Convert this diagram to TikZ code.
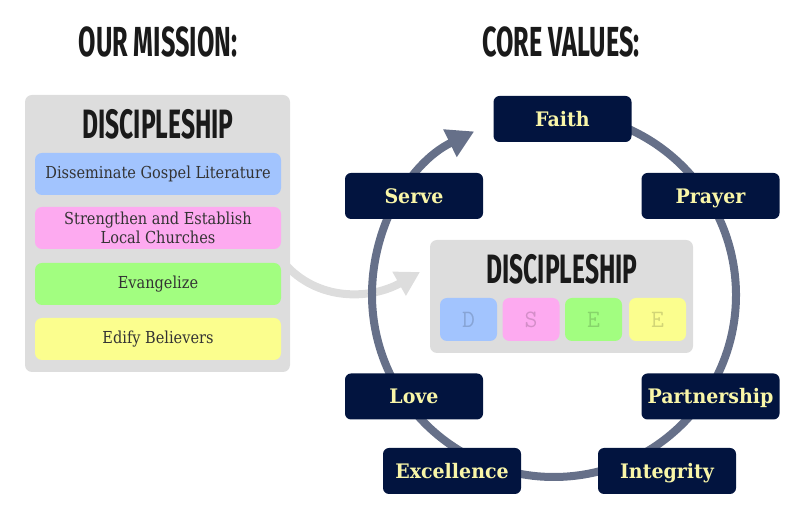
\documentclass[tikz,border=0pt]{standalone}
\usepackage{fontspec}
\usetikzlibrary{arrows.meta}
\newfontfamily\titlefont{Fira Sans}[FakeStretch=0.6]
\newfontfamily\slab{DejaVu Serif}[FakeStretch=0.88]
\newfontfamily\slabb{DejaVu Serif}[FakeStretch=0.95]
\definecolor{navy}{HTML}{02143F}
\definecolor{ringcol}{HTML}{667089}
\definecolor{boxgray}{HTML}{DDDDDD}
\definecolor{cblue}{HTML}{A2C4FE}
\definecolor{cpink}{HTML}{FDAAF0}
\definecolor{cgreen}{HTML}{A2FE80}
\definecolor{cyellow}{HTML}{FBFE8E}
\definecolor{valtext}{HTML}{F9F6A8}
\definecolor{bodytext}{HTML}{333333}
\definecolor{titletext}{HTML}{1A1A1A}
\tikzset{
  heading/.style={font=\titlefont\bfseries\fontsize{42}{42}\selectfont, text=titletext, inner sep=0pt},
  subheading/.style={font=\titlefont\bfseries\fontsize{41}{41}\selectfont, text=titletext, inner sep=0pt},
  panel/.style={fill=boxgray, rounded corners=7pt, inner sep=0pt},
  mission/.style={rounded corners=7pt, minimum width=246pt, minimum height=42pt, inner sep=0pt,
    font=\slab\fontsize{16.5}{19}\selectfont, text=bodytext, align=center},
  letterbox/.style={rounded corners=7pt, minimum width=57pt, minimum height=43pt, inner sep=0pt,
    font=\ttfamily\fontsize{25}{25}\selectfont, text=black, text opacity=0.16},
  value/.style={fill=navy, rounded corners=6pt, minimum width=138pt, minimum height=46pt, inner sep=0pt,
    text height=14.6pt, text depth=0pt,
    font=\slabb\bfseries\fontsize{20}{20}\selectfont, text=valtext},
}
\begin{document}
\begin{tikzpicture}[x=1pt,y=1pt]
\useasboundingbox (0,0) rectangle (801,511);
% headings
\node[heading] (hmission) at (158,469) {OUR MISSION:};
\node[heading] (hvalues) at (561,469) {CORE VALUES:};
% gray arrow
\coordinate (garrS) at (283,249);
\coordinate (garrE) at (420,239);
\draw[boxgray, line width=8pt, -{Triangle[length=24pt,width=26pt]}]
  (garrS) .. controls (318,208) and (372,212) .. (garrE);
% left panel
\node[panel, minimum width=265pt, minimum height=277pt] (left) at (157.5,277.5) {};
\node[subheading] (ltitle) at (158,387) {DISCIPLESHIP};
\node[mission, fill=cblue] (m1) at (158,337) {Disseminate Gospel Literature};
\node[mission, fill=cpink] (m2) at (158,283) {Strengthen and Establish\\Local Churches};
\node[mission, fill=cgreen] (m3) at (158,227) {Evangelize};
\node[mission, fill=cyellow] (m4) at (158,172) {Edify Believers};
% ring
\coordinate (cc) at (554,216);
\draw[ringcol, line width=8pt, -{Triangle[length=27pt,width=29pt]}]
  (cc) ++(95:182) arc[start angle=95, end angle=-244, radius=182];
% center panel
\node[panel, minimum width=263pt, minimum height=113pt] (center) at (561.5,214.5) {};
\node[subheading] (ctitle) at (562,242) {DISCIPLESHIP};
\node[letterbox, fill=cblue] (ld) at (468.5,191.5) {D};
\node[letterbox, fill=cpink] (ls) at (531,191.5) {S};
\node[letterbox, fill=cgreen] (le1) at (593.5,191.5) {E};
\node[letterbox, fill=cyellow] (le2) at (657.5,191.5) {E};
% values
\node[value] (faith) at (562.5,392) {Faith};
\node[value] (serve) at (414,315) {Serve};
\node[value] (prayer) at (710.5,315) {Prayer};
\node[value] (love) at (414,114.5) {Love};
\node[value] (partner) at (710.5,114.5) {Partnership};
\node[value] (excel) at (452,40) {Excellence};
\node[value] (integ) at (667,40) {Integrity};
\end{tikzpicture}
\end{document}
